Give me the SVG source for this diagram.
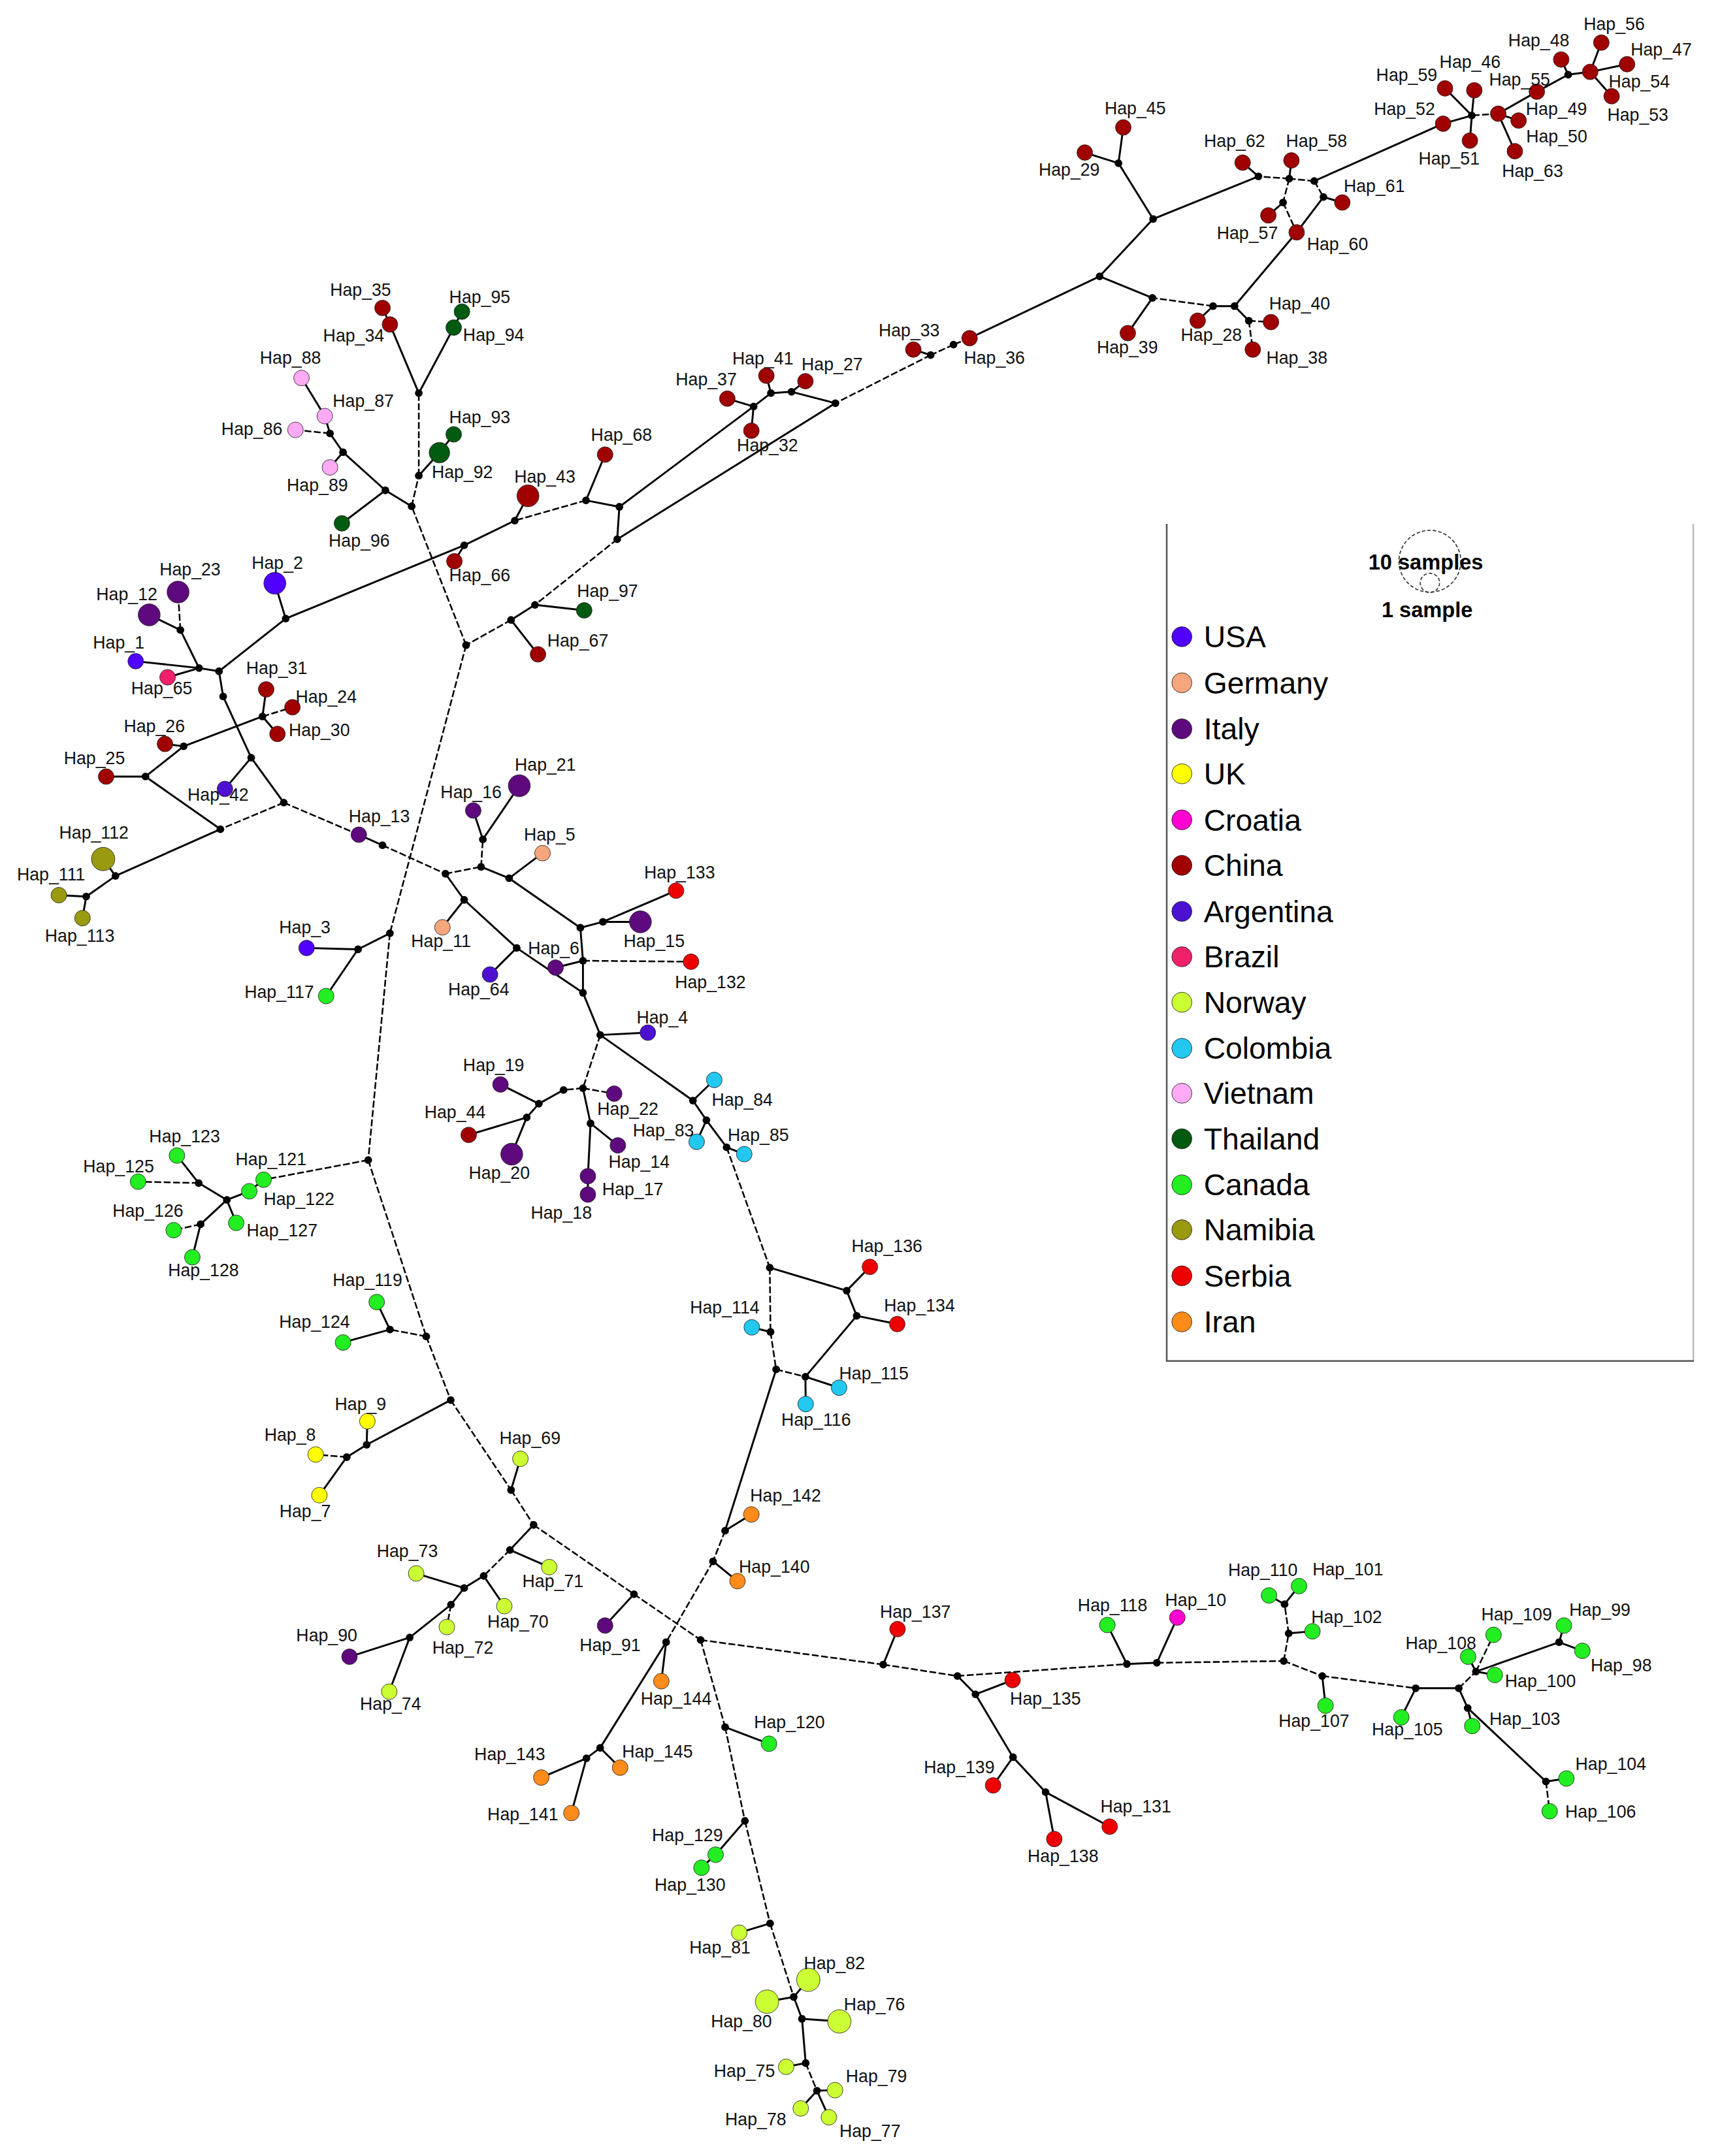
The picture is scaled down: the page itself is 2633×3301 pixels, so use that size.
<svg xmlns="http://www.w3.org/2000/svg" width="2633" height="3301" viewBox="0 0 2633 3301">
<style>
.s{stroke:#000;stroke-width:1.4;fill:none}
.d{stroke:#000;stroke-width:1.2;stroke-dasharray:5 1.8;fill:none}
.m{fill:#000}
.h{stroke:#222;stroke-width:0.4}
text{font-family:"Liberation Sans",Arial,sans-serif;font-size:12.7px;fill:#111}
.lg{font-size:22px;fill:#000}
.ls{font-size:15.5px;font-weight:bold;fill:#000}
.usa{fill:#5000ff}.ger{fill:#f5a67c}.ita{fill:#5e0a7e}.uk{fill:#ffff00}.cro{fill:#ff00d0}.cn{fill:#a00000}.arg{fill:#4b10d0}.bra{fill:#f0206a}.nor{fill:#ccff33}.col{fill:#22c8f0}.vie{fill:#ffaaf5}.tha{fill:#005a10}.can{fill:#22ee22}.nam{fill:#9a9a10}.ser{fill:#ee0000}.iran{fill:#ff8c1a}
</style>
<rect width="2633" height="3301" fill="#fff"/>
<g transform="scale(2.1047)">
<g id="connectors">
<line class="s" x1="1140.6" y1="54.3" x2="1135.5" y2="43.3"/>
<line class="s" x1="1140.6" y1="54.3" x2="1156.6" y2="52.3"/>
<line class="s" x1="1140.6" y1="54.3" x2="1117.8" y2="66.7"/>
<line class="s" x1="1156.6" y1="52.3" x2="1164.7" y2="31"/>
<line class="s" x1="1156.6" y1="52.3" x2="1183.4" y2="46.7"/>
<line class="s" x1="1156.6" y1="52.3" x2="1172.2" y2="70"/>
<line class="s" x1="1117.8" y1="66.7" x2="1089.7" y2="82.7"/>
<line class="d" x1="1089.7" y1="82.7" x2="1070.5" y2="84"/>
<line class="s" x1="1089.7" y1="82.7" x2="1104.5" y2="87.7"/>
<line class="s" x1="1089.7" y1="82.7" x2="1101.8" y2="110"/>
<line class="s" x1="1070.5" y1="84" x2="1051" y2="64.3"/>
<line class="s" x1="1070.5" y1="84" x2="1072.3" y2="65.7"/>
<line class="s" x1="1070.5" y1="84" x2="1049.6" y2="90"/>
<line class="s" x1="1070.5" y1="84" x2="1069.1" y2="102.3"/>
<line class="s" x1="1049.6" y1="90" x2="955.9" y2="131.7"/>
<line class="d" x1="955.9" y1="131.7" x2="937.7" y2="130"/>
<line class="d" x1="955.9" y1="131.7" x2="962.6" y2="143.3"/>
<line class="s" x1="937.7" y1="130" x2="939.3" y2="116.7"/>
<line class="d" x1="937.7" y1="130" x2="915.3" y2="128.3"/>
<line class="d" x1="937.7" y1="130" x2="933.2" y2="147.3"/>
<line class="s" x1="915.3" y1="128.3" x2="903.8" y2="118.3"/>
<line class="s" x1="915.3" y1="128.3" x2="838.7" y2="159.3"/>
<line class="s" x1="933.2" y1="147.3" x2="922.5" y2="156.7"/>
<line class="d" x1="933.2" y1="147.3" x2="943.1" y2="169"/>
<line class="s" x1="962.6" y1="143.3" x2="976.3" y2="147.3"/>
<line class="s" x1="962.6" y1="143.3" x2="943.1" y2="169"/>
<line class="s" x1="943.1" y1="169" x2="897.9" y2="222.7"/>
<line class="s" x1="897.9" y1="222.7" x2="882.3" y2="222.7"/>
<line class="s" x1="897.9" y1="222.7" x2="908.3" y2="233.3"/>
<line class="d" x1="908.3" y1="233.3" x2="924.4" y2="234.3"/>
<line class="d" x1="908.3" y1="233.3" x2="911.2" y2="254.3"/>
<line class="s" x1="882.3" y1="222.7" x2="871.1" y2="233.3"/>
<line class="d" x1="882.3" y1="222.7" x2="838.2" y2="216.7"/>
<line class="s" x1="838.2" y1="216.7" x2="820.3" y2="242.3"/>
<line class="s" x1="838.2" y1="216.7" x2="799.8" y2="201"/>
<line class="s" x1="799.8" y1="201" x2="838.7" y2="159.3"/>
<line class="s" x1="799.8" y1="201" x2="705.2" y2="246"/>
<line class="s" x1="838.7" y1="159.3" x2="813.5" y2="118.7"/>
<line class="s" x1="813.5" y1="118.7" x2="817" y2="92.7"/>
<line class="s" x1="813.5" y1="118.7" x2="789" y2="111"/>
<line class="d" x1="705.2" y1="246" x2="693.5" y2="250.7"/>
<line class="d" x1="693.5" y1="250.7" x2="676.9" y2="258.3"/>
<line class="s" x1="676.9" y1="258.3" x2="664.3" y2="254.3"/>
<line class="d" x1="676.9" y1="258.3" x2="607.6" y2="293.3"/>
<line class="s" x1="607.6" y1="293.3" x2="575.7" y2="285"/>
<line class="s" x1="575.7" y1="285" x2="585.8" y2="277.3"/>
<line class="s" x1="575.7" y1="285" x2="560.7" y2="286"/>
<line class="s" x1="560.7" y1="286" x2="557.4" y2="273.3"/>
<line class="s" x1="560.7" y1="286" x2="548.1" y2="295.7"/>
<line class="s" x1="548.1" y1="295.7" x2="529" y2="290"/>
<line class="s" x1="548.1" y1="295.7" x2="546.5" y2="313.3"/>
<line class="s" x1="548.1" y1="295.7" x2="450.5" y2="368.7"/>
<line class="s" x1="607.6" y1="293.3" x2="448.9" y2="392.3"/>
<line class="s" x1="450.5" y1="368.7" x2="448.9" y2="392.3"/>
<line class="s" x1="450.5" y1="368.7" x2="426.2" y2="364"/>
<line class="s" x1="426.2" y1="364" x2="440.1" y2="330.7"/>
<line class="d" x1="426.2" y1="364" x2="374.4" y2="378.7"/>
<line class="s" x1="374.4" y1="378.7" x2="384" y2="360.7"/>
<line class="s" x1="374.4" y1="378.7" x2="337.6" y2="396.7"/>
<line class="s" x1="337.6" y1="396.7" x2="330.5" y2="408.3"/>
<line class="s" x1="337.6" y1="396.7" x2="207.8" y2="450"/>
<line class="d" x1="448.9" y1="392.3" x2="389.1" y2="440"/>
<line class="s" x1="389.1" y1="440" x2="424.9" y2="444"/>
<line class="s" x1="389.1" y1="440" x2="371.7" y2="451"/>
<line class="s" x1="371.7" y1="451" x2="391.3" y2="476"/>
<line class="d" x1="371.7" y1="451" x2="339" y2="469.3"/>
<line class="d" x1="339" y1="469.3" x2="299.4" y2="368.3"/>
<line class="s" x1="299.4" y1="368.3" x2="280.3" y2="356.7"/>
<line class="d" x1="299.4" y1="368.3" x2="304.6" y2="346"/>
<line class="s" x1="304.6" y1="346" x2="319.6" y2="329.3"/>
<line class="d" x1="304.6" y1="346" x2="304.6" y2="286"/>
<line class="s" x1="319.6" y1="329.3" x2="330" y2="316"/>
<line class="s" x1="304.6" y1="286" x2="283.6" y2="236"/>
<line class="s" x1="304.6" y1="286" x2="330" y2="238.3"/>
<line class="s" x1="283.6" y1="236" x2="278.2" y2="224"/>
<line class="s" x1="330" y1="238.3" x2="336" y2="226.7"/>
<line class="s" x1="280.3" y1="356.7" x2="248.7" y2="380.7"/>
<line class="s" x1="280.3" y1="356.7" x2="249.5" y2="329"/>
<line class="s" x1="249.5" y1="329" x2="240" y2="340"/>
<line class="s" x1="249.5" y1="329" x2="240" y2="315.3"/>
<line class="d" x1="240" y1="315.3" x2="214.9" y2="312.7"/>
<line class="s" x1="240" y1="315.3" x2="236.2" y2="302.7"/>
<line class="s" x1="236.2" y1="302.7" x2="219.3" y2="275"/>
<line class="s" x1="207.8" y1="450" x2="199.9" y2="424.3"/>
<line class="s" x1="207.8" y1="450" x2="159.3" y2="488.3"/>
<line class="s" x1="159.3" y1="488.3" x2="144.8" y2="486"/>
<line class="s" x1="159.3" y1="488.3" x2="162.3" y2="506.7"/>
<line class="s" x1="144.8" y1="486" x2="98.7" y2="481"/>
<line class="s" x1="144.8" y1="486" x2="121.9" y2="492.7"/>
<line class="s" x1="144.8" y1="486" x2="131.2" y2="458.3"/>
<line class="d" x1="131.2" y1="458.3" x2="129.5" y2="430.7"/>
<line class="s" x1="131.2" y1="458.3" x2="108.5" y2="447.3"/>
<line class="s" x1="162.3" y1="506.7" x2="182.7" y2="551.2"/>
<line class="s" x1="182.7" y1="551.2" x2="163.6" y2="573.9"/>
<line class="s" x1="182.7" y1="551.2" x2="206.4" y2="583.9"/>
<line class="d" x1="206.4" y1="583.9" x2="160.3" y2="603.2"/>
<line class="d" x1="206.4" y1="583.9" x2="261" y2="607.2"/>
<line class="s" x1="261" y1="607.2" x2="278.2" y2="614.9"/>
<line class="d" x1="278.2" y1="614.9" x2="324" y2="635.6"/>
<line class="s" x1="190.9" y1="521.2" x2="193.6" y2="501.5"/>
<line class="d" x1="190.9" y1="521.2" x2="212.7" y2="514.5"/>
<line class="s" x1="190.9" y1="521.2" x2="201.8" y2="533.9"/>
<line class="s" x1="190.9" y1="521.2" x2="133.6" y2="542.9"/>
<line class="s" x1="133.6" y1="542.9" x2="120" y2="541.2"/>
<line class="s" x1="133.6" y1="542.9" x2="105.8" y2="564.9"/>
<line class="s" x1="105.8" y1="564.9" x2="77.2" y2="564.9"/>
<line class="s" x1="105.8" y1="564.9" x2="160.3" y2="603.2"/>
<line class="s" x1="160.3" y1="603.2" x2="84" y2="637.2"/>
<line class="s" x1="84" y1="637.2" x2="75" y2="624.9"/>
<line class="s" x1="84" y1="637.2" x2="62.7" y2="652.2"/>
<line class="s" x1="62.7" y1="652.2" x2="42.8" y2="651.2"/>
<line class="s" x1="62.7" y1="652.2" x2="60" y2="667.9"/>
<line class="d" x1="339" y1="469.3" x2="283.6" y2="678.9"/>
<line class="s" x1="324" y1="635.6" x2="337.6" y2="654.6"/>
<line class="d" x1="324" y1="635.6" x2="349.9" y2="630.6"/>
<line class="d" x1="349.9" y1="630.6" x2="351.2" y2="610.6"/>
<line class="s" x1="349.9" y1="630.6" x2="370.3" y2="638.9"/>
<line class="s" x1="351.2" y1="610.6" x2="344.2" y2="589.6"/>
<line class="s" x1="351.2" y1="610.6" x2="377.7" y2="571.6"/>
<line class="s" x1="370.3" y1="638.9" x2="394.6" y2="620.6"/>
<line class="s" x1="370.3" y1="638.9" x2="422.1" y2="674.9"/>
<line class="s" x1="422.1" y1="674.9" x2="438.5" y2="670.6"/>
<line class="s" x1="422.1" y1="674.9" x2="424" y2="698.9"/>
<line class="s" x1="438.5" y1="670.6" x2="465.8" y2="670.6"/>
<line class="s" x1="438.5" y1="670.6" x2="491.7" y2="647.9"/>
<line class="d" x1="424" y1="698.9" x2="502.6" y2="699.6"/>
<line class="s" x1="424" y1="698.9" x2="404.1" y2="703.9"/>
<line class="s" x1="424" y1="698.9" x2="424" y2="722.2"/>
<line class="s" x1="337.6" y1="654.6" x2="321.8" y2="674.6"/>
<line class="s" x1="337.6" y1="654.6" x2="375.8" y2="689.6"/>
<line class="s" x1="375.8" y1="689.6" x2="356.4" y2="708.9"/>
<line class="s" x1="375.8" y1="689.6" x2="424" y2="722.2"/>
<line class="s" x1="424" y1="722.2" x2="436.6" y2="752.9"/>
<line class="s" x1="436.6" y1="752.9" x2="471.2" y2="751.2"/>
<line class="s" x1="436.6" y1="752.9" x2="504" y2="800.6"/>
<line class="d" x1="436.6" y1="752.9" x2="424" y2="791.6"/>
<line class="d" x1="424" y1="791.6" x2="409.9" y2="792.9"/>
<line class="d" x1="424" y1="791.6" x2="446.7" y2="795.6"/>
<line class="s" x1="424" y1="791.6" x2="429.5" y2="817.2"/>
<line class="s" x1="409.9" y1="792.9" x2="391.9" y2="802.9"/>
<line class="s" x1="391.9" y1="802.9" x2="364" y2="788.9"/>
<line class="s" x1="391.9" y1="802.9" x2="383.1" y2="812.9"/>
<line class="s" x1="383.1" y1="812.9" x2="340.9" y2="825.6"/>
<line class="s" x1="383.1" y1="812.9" x2="372.2" y2="839.6"/>
<line class="s" x1="429.5" y1="817.2" x2="449.4" y2="833.2"/>
<line class="s" x1="429.5" y1="817.2" x2="427.6" y2="855.6"/>
<line class="s" x1="427.6" y1="855.6" x2="427.6" y2="869"/>
<line class="s" x1="504" y1="800.6" x2="519.5" y2="785.6"/>
<line class="s" x1="504" y1="800.6" x2="513.8" y2="814.9"/>
<line class="s" x1="513.8" y1="814.9" x2="506.7" y2="830.6"/>
<line class="s" x1="513.8" y1="814.9" x2="528.5" y2="834.6"/>
<line class="s" x1="528.5" y1="834.6" x2="541.3" y2="839.6"/>
<line class="d" x1="528.5" y1="834.6" x2="559.9" y2="922.2"/>
<line class="s" x1="559.9" y1="922.2" x2="615.8" y2="938.9"/>
<line class="d" x1="559.9" y1="922.2" x2="560.4" y2="968.9"/>
<line class="s" x1="615.8" y1="938.9" x2="632.7" y2="921.6"/>
<line class="s" x1="615.8" y1="938.9" x2="623.1" y2="957.2"/>
<line class="s" x1="623.1" y1="957.2" x2="652.6" y2="963.2"/>
<line class="s" x1="623.1" y1="957.2" x2="585.8" y2="1001.5"/>
<line class="s" x1="560.4" y1="968.9" x2="546.8" y2="965.6"/>
<line class="d" x1="560.4" y1="968.9" x2="564.5" y2="996.2"/>
<line class="d" x1="564.5" y1="996.2" x2="585.8" y2="1001.5"/>
<line class="s" x1="564.5" y1="996.2" x2="527.4" y2="1113.5"/>
<line class="s" x1="585.8" y1="1001.5" x2="610.3" y2="1009.5"/>
<line class="s" x1="585.8" y1="1001.5" x2="586" y2="1021.4"/>
<line class="s" x1="527.4" y1="1113.5" x2="546.5" y2="1101.7"/>
<line class="d" x1="527.4" y1="1113.5" x2="518.6" y2="1135.8"/>
<line class="s" x1="518.6" y1="1135.8" x2="536.4" y2="1150.2"/>
<line class="d" x1="518.6" y1="1135.8" x2="484.5" y2="1194.6"/>
<line class="s" x1="484.5" y1="1194.6" x2="481" y2="1223"/>
<line class="s" x1="484.5" y1="1194.6" x2="436.5" y2="1271.5"/>
<line class="s" x1="436.5" y1="1271.5" x2="451" y2="1285.9"/>
<line class="s" x1="436.5" y1="1271.5" x2="426.5" y2="1279.1"/>
<line class="s" x1="426.5" y1="1279.1" x2="393.7" y2="1293.1"/>
<line class="s" x1="426.5" y1="1279.1" x2="415.6" y2="1318.9"/>
<line class="s" x1="283.6" y1="678.9" x2="260.4" y2="690.6"/>
<line class="d" x1="283.6" y1="678.9" x2="267.8" y2="843.9"/>
<line class="s" x1="260.4" y1="690.6" x2="223" y2="689.6"/>
<line class="s" x1="260.4" y1="690.6" x2="237.2" y2="724.6"/>
<line class="d" x1="267.8" y1="843.9" x2="191.7" y2="858.2"/>
<line class="s" x1="191.7" y1="858.2" x2="181.3" y2="866.6"/>
<line class="s" x1="181.3" y1="866.6" x2="165" y2="872.9"/>
<line class="s" x1="165" y1="872.9" x2="144.5" y2="860.6"/>
<line class="s" x1="165" y1="872.9" x2="145.9" y2="890.6"/>
<line class="s" x1="165" y1="872.9" x2="171.8" y2="889.6"/>
<line class="s" x1="144.5" y1="860.6" x2="128.7" y2="840.6"/>
<line class="d" x1="144.5" y1="860.6" x2="100.4" y2="859.6"/>
<line class="d" x1="145.9" y1="890.6" x2="126.3" y2="894.9"/>
<line class="s" x1="145.9" y1="890.6" x2="139.9" y2="914.6"/>
<line class="d" x1="267.8" y1="843.9" x2="310" y2="972.2"/>
<line class="d" x1="310" y1="972.2" x2="283.6" y2="967.2"/>
<line class="d" x1="310" y1="972.2" x2="327.8" y2="1018.5"/>
<line class="s" x1="283.6" y1="967.2" x2="274" y2="947.2"/>
<line class="s" x1="283.6" y1="967.2" x2="249.5" y2="976.6"/>
<line class="s" x1="327.8" y1="1018.5" x2="266.7" y2="1051"/>
<line class="d" x1="327.8" y1="1018.5" x2="371.7" y2="1083.9"/>
<line class="s" x1="266.7" y1="1051" x2="267.2" y2="1033.9"/>
<line class="s" x1="266.7" y1="1051" x2="252.2" y2="1060"/>
<line class="d" x1="252.2" y1="1060" x2="229.6" y2="1058.1"/>
<line class="s" x1="252.2" y1="1060" x2="232.3" y2="1087.7"/>
<line class="s" x1="371.7" y1="1083.9" x2="378.5" y2="1061.2"/>
<line class="d" x1="371.7" y1="1083.9" x2="388.1" y2="1109.3"/>
<line class="s" x1="388.1" y1="1109.3" x2="370.9" y2="1127.5"/>
<line class="d" x1="388.1" y1="1109.3" x2="461.1" y2="1159.7"/>
<line class="s" x1="370.9" y1="1127.5" x2="399.5" y2="1140"/>
<line class="d" x1="370.9" y1="1127.5" x2="351.8" y2="1146.4"/>
<line class="s" x1="351.8" y1="1146.4" x2="366.8" y2="1168.4"/>
<line class="s" x1="351.8" y1="1146.4" x2="337.6" y2="1155.2"/>
<line class="s" x1="337.6" y1="1155.2" x2="302.7" y2="1144.6"/>
<line class="s" x1="337.6" y1="1155.2" x2="328" y2="1167.3"/>
<line class="d" x1="328" y1="1167.3" x2="325" y2="1183.6"/>
<line class="s" x1="328" y1="1167.3" x2="298" y2="1191.2"/>
<line class="s" x1="298" y1="1191.2" x2="254.2" y2="1205.2"/>
<line class="s" x1="298" y1="1191.2" x2="283.1" y2="1230.6"/>
<line class="s" x1="461.1" y1="1159.7" x2="440.1" y2="1182.5"/>
<line class="d" x1="461.1" y1="1159.7" x2="509.6" y2="1193"/>
<line class="d" x1="509.6" y1="1193" x2="642.4" y2="1210.9"/>
<line class="d" x1="509.6" y1="1193" x2="527.4" y2="1256.4"/>
<line class="s" x1="642.4" y1="1210.9" x2="652.8" y2="1185.1"/>
<line class="d" x1="642.4" y1="1210.9" x2="696.4" y2="1219.2"/>
<line class="s" x1="696.4" y1="1219.2" x2="709.5" y2="1232.5"/>
<line class="d" x1="696.4" y1="1219.2" x2="819.6" y2="1210.5"/>
<line class="s" x1="709.5" y1="1232.5" x2="736.5" y2="1222.2"/>
<line class="s" x1="709.5" y1="1232.5" x2="736.8" y2="1278.3"/>
<line class="s" x1="736.8" y1="1278.3" x2="722.3" y2="1298.8"/>
<line class="s" x1="736.8" y1="1278.3" x2="760.5" y2="1303.7"/>
<line class="s" x1="760.5" y1="1303.7" x2="766.8" y2="1337.8"/>
<line class="s" x1="760.5" y1="1303.7" x2="807.1" y2="1328.8"/>
<line class="s" x1="819.6" y1="1210.5" x2="805.4" y2="1182.1"/>
<line class="s" x1="819.6" y1="1210.5" x2="841.4" y2="1209.6"/>
<line class="s" x1="841.4" y1="1209.6" x2="856.3" y2="1176.7"/>
<line class="d" x1="841.4" y1="1209.6" x2="933.7" y2="1208.3"/>
<line class="d" x1="933.7" y1="1208.3" x2="937.3" y2="1188.2"/>
<line class="d" x1="933.7" y1="1208.3" x2="961.7" y2="1219.2"/>
<line class="s" x1="937.3" y1="1188.2" x2="954.6" y2="1186.7"/>
<line class="d" x1="937.3" y1="1188.2" x2="934.3" y2="1167"/>
<line class="s" x1="934.3" y1="1167" x2="923" y2="1160.6"/>
<line class="s" x1="934.3" y1="1167" x2="944.8" y2="1153.8"/>
<line class="s" x1="961.7" y1="1219.2" x2="964.1" y2="1240.8"/>
<line class="d" x1="961.7" y1="1219.2" x2="1029.7" y2="1228.1"/>
<line class="s" x1="1029.7" y1="1228.1" x2="1019.2" y2="1249.3"/>
<line class="s" x1="1029.7" y1="1228.1" x2="1061" y2="1228.1"/>
<line class="d" x1="1061" y1="1228.1" x2="1073.5" y2="1216"/>
<line class="s" x1="1061" y1="1228.1" x2="1067.5" y2="1242.5"/>
<line class="s" x1="1073.5" y1="1216" x2="1067.8" y2="1205.2"/>
<line class="d" x1="1073.5" y1="1216" x2="1086.3" y2="1189.3"/>
<line class="s" x1="1073.5" y1="1216" x2="1087.2" y2="1218.5"/>
<line class="s" x1="1073.5" y1="1216" x2="1134" y2="1194.6"/>
<line class="s" x1="1134" y1="1194.6" x2="1137.5" y2="1182.5"/>
<line class="s" x1="1134" y1="1194.6" x2="1150.9" y2="1200.9"/>
<line class="s" x1="1067.5" y1="1242.5" x2="1070.8" y2="1255.6"/>
<line class="s" x1="1067.5" y1="1242.5" x2="1124.4" y2="1296"/>
<line class="s" x1="1124.4" y1="1296" x2="1139.3" y2="1293.8"/>
<line class="d" x1="1124.4" y1="1296" x2="1127.1" y2="1317.6"/>
<line class="s" x1="527.4" y1="1256.4" x2="559.3" y2="1268.5"/>
<line class="d" x1="527.4" y1="1256.4" x2="541.8" y2="1324.6"/>
<line class="s" x1="541.8" y1="1324.6" x2="520.5" y2="1349.2"/>
<line class="s" x1="520.5" y1="1349.2" x2="510.2" y2="1358.7"/>
<line class="d" x1="541.8" y1="1324.6" x2="560.1" y2="1399.2"/>
<line class="s" x1="560.1" y1="1399.2" x2="537.7" y2="1406"/>
<line class="d" x1="560.1" y1="1399.2" x2="577.3" y2="1452.7"/>
<line class="s" x1="577.3" y1="1452.7" x2="587.9" y2="1440.2"/>
<line class="s" x1="577.3" y1="1452.7" x2="557.9" y2="1456.1"/>
<line class="s" x1="577.3" y1="1452.7" x2="583.3" y2="1468.6"/>
<line class="s" x1="583.3" y1="1468.6" x2="610.5" y2="1470.5"/>
<line class="s" x1="583.3" y1="1468.6" x2="586" y2="1500.8"/>
<line class="s" x1="586" y1="1500.8" x2="571.8" y2="1503.5"/>
<line class="d" x1="586" y1="1500.8" x2="594.2" y2="1520.9"/>
<line class="s" x1="594.2" y1="1520.9" x2="607.3" y2="1520.5"/>
<line class="s" x1="594.2" y1="1520.9" x2="582.4" y2="1533.8"/>
<line class="s" x1="594.2" y1="1520.9" x2="602.9" y2="1540.2"/>
</g>
<g id="median-vectors" class="m">
<circle cx="1140.6" cy="54.3" r="2.8"/><circle cx="1070.5" cy="84" r="2.8"/><circle cx="915.3" cy="128.3" r="2.8"/><circle cx="937.7" cy="130" r="2.8"/><circle cx="955.9" cy="131.7" r="2.8"/><circle cx="933.2" cy="147.3" r="2.8"/><circle cx="962.6" cy="143.3" r="2.8"/><circle cx="838.7" cy="159.3" r="2.8"/><circle cx="813.5" cy="118.7" r="2.8"/><circle cx="799.8" cy="201" r="2.8"/><circle cx="838.2" cy="216.7" r="2.8"/><circle cx="882.3" cy="222.7" r="2.8"/><circle cx="897.9" cy="222.7" r="2.8"/><circle cx="908.3" cy="233.3" r="2.8"/><circle cx="693.5" cy="250.7" r="2.8"/><circle cx="676.9" cy="258.3" r="2.8"/><circle cx="607.6" cy="293.3" r="2.8"/><circle cx="575.7" cy="285" r="2.8"/><circle cx="560.7" cy="286" r="2.8"/><circle cx="548.1" cy="295.7" r="2.8"/><circle cx="450.5" cy="368.7" r="2.8"/><circle cx="448.9" cy="392.3" r="2.8"/><circle cx="426.2" cy="364" r="2.8"/><circle cx="374.4" cy="378.7" r="2.8"/><circle cx="337.6" cy="396.7" r="2.8"/><circle cx="389.1" cy="440" r="2.8"/><circle cx="371.7" cy="451" r="2.8"/><circle cx="339" cy="469.3" r="2.8"/><circle cx="299.4" cy="368.3" r="2.8"/><circle cx="304.6" cy="346" r="2.8"/><circle cx="304.6" cy="286" r="2.8"/><circle cx="280.3" cy="356.7" r="2.8"/><circle cx="249.5" cy="329" r="2.8"/><circle cx="240" cy="315.3" r="2.8"/><circle cx="207.8" cy="450" r="2.8"/><circle cx="159.3" cy="488.3" r="2.8"/><circle cx="144.8" cy="486" r="2.8"/><circle cx="131.2" cy="458.3" r="2.8"/><circle cx="162.3" cy="506.7" r="2.8"/><circle cx="190.9" cy="521.2" r="2.8"/><circle cx="133.6" cy="542.9" r="2.8"/><circle cx="182.7" cy="551.2" r="2.8"/><circle cx="206.4" cy="583.9" r="2.8"/><circle cx="105.8" cy="564.9" r="2.8"/><circle cx="160.3" cy="603.2" r="2.8"/><circle cx="84" cy="637.2" r="2.8"/><circle cx="62.7" cy="652.2" r="2.8"/><circle cx="278.2" cy="614.9" r="2.8"/><circle cx="324" cy="635.6" r="2.8"/><circle cx="337.6" cy="654.6" r="2.8"/><circle cx="349.9" cy="630.6" r="2.8"/><circle cx="351.2" cy="610.6" r="2.8"/><circle cx="370.3" cy="638.9" r="2.8"/><circle cx="422.1" cy="674.9" r="2.8"/><circle cx="438.5" cy="670.6" r="2.8"/><circle cx="424" cy="698.9" r="2.8"/><circle cx="375.8" cy="689.6" r="2.8"/><circle cx="424" cy="722.2" r="2.8"/><circle cx="436.6" cy="752.9" r="2.8"/><circle cx="424" cy="791.6" r="2.8"/><circle cx="409.9" cy="792.9" r="2.8"/><circle cx="391.9" cy="802.9" r="2.8"/><circle cx="383.1" cy="812.9" r="2.8"/><circle cx="429.5" cy="817.2" r="2.8"/><circle cx="504" cy="800.6" r="2.8"/><circle cx="513.8" cy="814.9" r="2.8"/><circle cx="528.5" cy="834.6" r="2.8"/><circle cx="559.9" cy="922.2" r="2.8"/><circle cx="615.8" cy="938.9" r="2.8"/><circle cx="623.1" cy="957.2" r="2.8"/><circle cx="560.4" cy="968.9" r="2.8"/><circle cx="564.5" cy="996.2" r="2.8"/><circle cx="585.8" cy="1001.5" r="2.8"/><circle cx="527.4" cy="1113.5" r="2.8"/><circle cx="518.6" cy="1135.8" r="2.8"/><circle cx="484.5" cy="1194.6" r="2.8"/><circle cx="436.5" cy="1271.5" r="2.8"/><circle cx="426.5" cy="1279.1" r="2.8"/><circle cx="283.6" cy="678.9" r="2.8"/><circle cx="260.4" cy="690.6" r="2.8"/><circle cx="267.8" cy="843.9" r="2.8"/><circle cx="165" cy="872.9" r="2.8"/><circle cx="144.5" cy="860.6" r="2.8"/><circle cx="145.9" cy="890.6" r="2.8"/><circle cx="310" cy="972.2" r="2.8"/><circle cx="283.6" cy="967.2" r="2.8"/><circle cx="327.8" cy="1018.5" r="2.8"/><circle cx="266.7" cy="1051" r="2.8"/><circle cx="252.2" cy="1060" r="2.8"/><circle cx="371.7" cy="1083.9" r="2.8"/><circle cx="388.1" cy="1109.3" r="2.8"/><circle cx="370.9" cy="1127.5" r="2.8"/><circle cx="351.8" cy="1146.4" r="2.8"/><circle cx="337.6" cy="1155.2" r="2.8"/><circle cx="328" cy="1167.3" r="2.8"/><circle cx="298" cy="1191.2" r="2.8"/><circle cx="461.1" cy="1159.7" r="2.8"/><circle cx="509.6" cy="1193" r="2.8"/><circle cx="642.4" cy="1210.9" r="2.8"/><circle cx="696.4" cy="1219.2" r="2.8"/><circle cx="709.5" cy="1232.5" r="2.8"/><circle cx="736.8" cy="1278.3" r="2.8"/><circle cx="760.5" cy="1303.7" r="2.8"/><circle cx="819.6" cy="1210.5" r="2.8"/><circle cx="841.4" cy="1209.6" r="2.8"/><circle cx="933.7" cy="1208.3" r="2.8"/><circle cx="937.3" cy="1188.2" r="2.8"/><circle cx="934.3" cy="1167" r="2.8"/><circle cx="961.7" cy="1219.2" r="2.8"/><circle cx="1029.7" cy="1228.1" r="2.8"/><circle cx="1061" cy="1228.1" r="2.8"/><circle cx="1073.5" cy="1216" r="2.8"/><circle cx="1134" cy="1194.6" r="2.8"/><circle cx="1067.5" cy="1242.5" r="2.8"/><circle cx="1124.4" cy="1296" r="2.8"/><circle cx="527.4" cy="1256.4" r="2.8"/><circle cx="541.8" cy="1324.6" r="2.8"/><circle cx="560.1" cy="1399.2" r="2.8"/><circle cx="577.3" cy="1452.7" r="2.8"/><circle cx="583.3" cy="1468.6" r="2.8"/><circle cx="586" cy="1500.8" r="2.8"/><circle cx="594.2" cy="1520.9" r="2.8"/>
</g>
<g id="haplotypes">
<g id="Hap_56"><circle class="h cn" cx="1164.7" cy="31" r="5.7"/><text x="1151.8" y="21.8">Hap_56</text></g>
<g id="Hap_48"><circle class="h cn" cx="1135.5" cy="43.3" r="5.7"/><text x="1097" y="33.8">Hap_48</text></g>
<g id="Hap_47"><circle class="h cn" cx="1183.4" cy="46.7" r="5.7"/><text x="1186" y="40.5">Hap_47</text></g>
<g id="Hap_54"><circle class="h cn" cx="1156.6" cy="52.3" r="5.7"/><text x="1170" y="63.8">Hap_54</text></g>
<g id="Hap_53"><circle class="h cn" cx="1172.2" cy="70" r="5.7"/><text x="1169" y="87.8">Hap_53</text></g>
<g id="Hap_59"><circle class="h cn" cx="1051" cy="64.3" r="5.7"/><text x="1000.9" y="58.8">Hap_59</text></g>
<g id="Hap_46"><circle class="h cn" cx="1072.3" cy="65.7" r="5.7"/><text x="1047" y="49.5">Hap_46</text></g>
<g id="Hap_55"><circle class="h cn" cx="1117.8" cy="66.7" r="5.7"/><text x="1083" y="62.2">Hap_55</text></g>
<g id="Hap_52"><circle class="h cn" cx="1049.6" cy="90" r="5.7"/><text x="999.3" y="83.8">Hap_52</text></g>
<g id="Hap_49"><circle class="h cn" cx="1089.7" cy="82.7" r="5.7"/><text x="1109.8" y="83.5">Hap_49</text></g>
<g id="Hap_50"><circle class="h cn" cx="1104.5" cy="87.7" r="5.7"/><text x="1110" y="103.5">Hap_50</text></g>
<g id="Hap_63"><circle class="h cn" cx="1101.8" cy="110" r="5.7"/><text x="1092.4" y="128.8">Hap_63</text></g>
<g id="Hap_51"><circle class="h cn" cx="1069.1" cy="102.3" r="5.7"/><text x="1031.7" y="119.5">Hap_51</text></g>
<g id="Hap_62"><circle class="h cn" cx="903.8" cy="118.3" r="5.7"/><text x="875.7" y="106.8">Hap_62</text></g>
<g id="Hap_58"><circle class="h cn" cx="939.3" cy="116.7" r="5.7"/><text x="935.3" y="106.8">Hap_58</text></g>
<g id="Hap_61"><circle class="h cn" cx="976.3" cy="147.3" r="5.7"/><text x="977.3" y="139.5">Hap_61</text></g>
<g id="Hap_57"><circle class="h cn" cx="922.5" cy="156.7" r="5.7"/><text x="885" y="173.8">Hap_57</text></g>
<g id="Hap_60"><circle class="h cn" cx="943.1" cy="169" r="5.7"/><text x="950.6" y="182.2">Hap_60</text></g>
<g id="Hap_40"><circle class="h cn" cx="924.4" cy="234.3" r="5.7"/><text x="923" y="225.2">Hap_40</text></g>
<g id="Hap_38"><circle class="h cn" cx="911.2" cy="254.3" r="5.7"/><text x="921" y="264.5">Hap_38</text></g>
<g id="Hap_28"><circle class="h cn" cx="871.1" cy="233.3" r="5.7"/><text x="858.8" y="247.8">Hap_28</text></g>
<g id="Hap_39"><circle class="h cn" cx="820.3" cy="242.3" r="5.7"/><text x="797.7" y="257.2">Hap_39</text></g>
<g id="Hap_45"><circle class="h cn" cx="817" cy="92.7" r="5.7"/><text x="803.4" y="83.2">Hap_45</text></g>
<g id="Hap_29"><circle class="h cn" cx="789" cy="111" r="5.7"/><text x="755.4" y="127.8">Hap_29</text></g>
<g id="Hap_36"><circle class="h cn" cx="705.2" cy="246" r="5.7"/><text x="701" y="264.5">Hap_36</text></g>
<g id="Hap_33"><circle class="h cn" cx="664.3" cy="254.3" r="5.7"/><text x="639" y="244.5">Hap_33</text></g>
<g id="Hap_27"><circle class="h cn" cx="585.8" cy="277.3" r="5.7"/><text x="583" y="269.5">Hap_27</text></g>
<g id="Hap_41"><circle class="h cn" cx="557.4" cy="273.3" r="5.7"/><text x="532.6" y="265.2">Hap_41</text></g>
<g id="Hap_37"><circle class="h cn" cx="529" cy="290" r="5.7"/><text x="491.4" y="280.5">Hap_37</text></g>
<g id="Hap_32"><circle class="h cn" cx="546.5" cy="313.3" r="5.7"/><text x="536" y="328.5">Hap_32</text></g>
<g id="Hap_68"><circle class="h cn" cx="440.1" cy="330.7" r="5.7"/><text x="429.8" y="320.5">Hap_68</text></g>
<g id="Hap_43"><circle class="h cn" cx="384" cy="360.7" r="8"/><text x="374" y="351.2">Hap_43</text></g>
<g id="Hap_66"><circle class="h cn" cx="330.5" cy="408.3" r="5.7"/><text x="326.7" y="422.8">Hap_66</text></g>
<g id="Hap_67"><circle class="h cn" cx="391.3" cy="476" r="5.7"/><text x="398" y="470.5">Hap_67</text></g>
<g id="Hap_35"><circle class="h cn" cx="278.2" cy="224" r="5.7"/><text x="240" y="215.2">Hap_35</text></g>
<g id="Hap_34"><circle class="h cn" cx="283.6" cy="236" r="5.7"/><text x="235" y="248.5">Hap_34</text></g>
<g id="Hap_31"><circle class="h cn" cx="193.6" cy="501.5" r="5.7"/><text x="179" y="490.2">Hap_31</text></g>
<g id="Hap_24"><circle class="h cn" cx="212.7" cy="514.5" r="5.7"/><text x="215" y="511">Hap_24</text></g>
<g id="Hap_30"><circle class="h cn" cx="201.8" cy="533.9" r="5.7"/><text x="210" y="535.7">Hap_30</text></g>
<g id="Hap_26"><circle class="h cn" cx="120" cy="541.2" r="5.7"/><text x="90" y="532.7">Hap_26</text></g>
<g id="Hap_25"><circle class="h cn" cx="77.2" cy="564.9" r="5.7"/><text x="46.4" y="556.1">Hap_25</text></g>
<g id="Hap_44"><circle class="h cn" cx="340.9" cy="825.6" r="5.7"/><text x="308.7" y="813.4">Hap_44</text></g>
<g id="Hap_95"><circle class="h tha" cx="336" cy="226.7" r="5.7"/><text x="326.7" y="220.5">Hap_95</text></g>
<g id="Hap_94"><circle class="h tha" cx="330" cy="238.3" r="5.7"/><text x="336.8" y="247.8">Hap_94</text></g>
<g id="Hap_93"><circle class="h tha" cx="330" cy="316" r="5.7"/><text x="326.7" y="307.8">Hap_93</text></g>
<g id="Hap_92"><circle class="h tha" cx="319.6" cy="329.3" r="7.5"/><text x="314" y="347.8">Hap_92</text></g>
<g id="Hap_96"><circle class="h tha" cx="248.7" cy="380.7" r="5.7"/><text x="239" y="397.8">Hap_96</text></g>
<g id="Hap_97"><circle class="h tha" cx="424.9" cy="444" r="5.7"/><text x="419.6" y="434.5">Hap_97</text></g>
<g id="Hap_88"><circle class="h vie" cx="219.3" cy="275" r="5.7"/><text x="189" y="264.5">Hap_88</text></g>
<g id="Hap_87"><circle class="h vie" cx="236.2" cy="302.7" r="5.7"/><text x="242" y="296.2">Hap_87</text></g>
<g id="Hap_86"><circle class="h vie" cx="214.9" cy="312.7" r="5.7"/><text x="161" y="316.2">Hap_86</text></g>
<g id="Hap_89"><circle class="h vie" cx="240" cy="340" r="5.7"/><text x="208.6" y="357.2">Hap_89</text></g>
<g id="Hap_2"><circle class="h usa" cx="199.9" cy="424.3" r="8"/><text x="183" y="413.8">Hap_2</text></g>
<g id="Hap_1"><circle class="h usa" cx="98.7" cy="481" r="5.7"/><text x="67.6" y="471.8">Hap_1</text></g>
<g id="Hap_3"><circle class="h usa" cx="223" cy="689.6" r="5.7"/><text x="203" y="679.1">Hap_3</text></g>
<g id="Hap_42"><circle class="h arg" cx="163.6" cy="573.9" r="5.7"/><text x="136.4" y="582.7">Hap_42</text></g>
<g id="Hap_64"><circle class="h arg" cx="356.4" cy="708.9" r="5.7"/><text x="325.9" y="724.1">Hap_64</text></g>
<g id="Hap_4"><circle class="h arg" cx="471.2" cy="751.2" r="5.7"/><text x="463" y="744.4">Hap_4</text></g>
<g id="Hap_23"><circle class="h ita" cx="129.5" cy="430.7" r="8"/><text x="116" y="418.8">Hap_23</text></g>
<g id="Hap_12"><circle class="h ita" cx="108.5" cy="447.3" r="8"/><text x="70" y="436.8">Hap_12</text></g>
<g id="Hap_13"><circle class="h ita" cx="261" cy="607.2" r="5.7"/><text x="253.6" y="598.4">Hap_13</text></g>
<g id="Hap_16"><circle class="h ita" cx="344.2" cy="589.6" r="5.7"/><text x="320.4" y="580.7">Hap_16</text></g>
<g id="Hap_21"><circle class="h ita" cx="377.7" cy="571.6" r="8"/><text x="374.4" y="560.7">Hap_21</text></g>
<g id="Hap_15"><circle class="h ita" cx="465.8" cy="670.6" r="8"/><text x="453.5" y="689.1">Hap_15</text></g>
<g id="Hap_6"><circle class="h ita" cx="404.1" cy="703.9" r="5.7"/><text x="384" y="694.1">Hap_6</text></g>
<g id="Hap_19"><circle class="h ita" cx="364" cy="788.9" r="5.7"/><text x="336.8" y="779.4">Hap_19</text></g>
<g id="Hap_20"><circle class="h ita" cx="372.2" cy="839.6" r="8"/><text x="340.9" y="857.4">Hap_20</text></g>
<g id="Hap_22"><circle class="h ita" cx="446.7" cy="795.6" r="5.7"/><text x="434.4" y="811.1">Hap_22</text></g>
<g id="Hap_14"><circle class="h ita" cx="449.4" cy="833.2" r="5.7"/><text x="442.6" y="849.4">Hap_14</text></g>
<g id="Hap_17"><circle class="h ita" cx="427.6" cy="855.6" r="5.7"/><text x="438" y="869.4">Hap_17</text></g>
<g id="Hap_18"><circle class="h ita" cx="427.6" cy="869" r="5.7"/><text x="386" y="886.5">Hap_18</text></g>
<g id="Hap_90"><circle class="h ita" cx="254.2" cy="1205.2" r="5.7"/><text x="215.4" y="1193.8">Hap_90</text></g>
<g id="Hap_91"><circle class="h ita" cx="440.1" cy="1182.5" r="5.7"/><text x="421.5" y="1201">Hap_91</text></g>
<g id="Hap_65"><circle class="h bra" cx="121.9" cy="492.7" r="5.7"/><text x="95.4" y="505.2">Hap_65</text></g>
<g id="Hap_5"><circle class="h ger" cx="394.6" cy="620.6" r="5.7"/><text x="381" y="611.7">Hap_5</text></g>
<g id="Hap_11"><circle class="h ger" cx="321.8" cy="674.6" r="5.7"/><text x="299" y="689.1">Hap_11</text></g>
<g id="Hap_112"><circle class="h nam" cx="75" cy="624.9" r="8.5"/><text x="43" y="610.1">Hap_112</text></g>
<g id="Hap_111"><circle class="h nam" cx="42.8" cy="651.2" r="5.7"/><text x="12.3" y="640.7">Hap_111</text></g>
<g id="Hap_113"><circle class="h nam" cx="60" cy="667.9" r="5.7"/><text x="32.7" y="685.1">Hap_113</text></g>
<g id="Hap_117"><circle class="h can" cx="237.2" cy="724.6" r="5.7"/><text x="177.8" y="726.1">Hap_117</text></g>
<g id="Hap_123"><circle class="h can" cx="128.7" cy="840.6" r="5.7"/><text x="108.5" y="831.1">Hap_123</text></g>
<g id="Hap_125"><circle class="h can" cx="100.4" cy="859.6" r="5.7"/><text x="60.5" y="852.7">Hap_125</text></g>
<g id="Hap_121"><circle class="h can" cx="191.7" cy="858.2" r="5.7"/><text x="171.3" y="847.4">Hap_121</text></g>
<g id="Hap_122"><circle class="h can" cx="181.3" cy="866.6" r="5.7"/><text x="191.7" y="876.7">Hap_122</text></g>
<g id="Hap_126"><circle class="h can" cx="126.3" cy="894.9" r="5.7"/><text x="81.8" y="885.1">Hap_126</text></g>
<g id="Hap_127"><circle class="h can" cx="171.8" cy="889.6" r="5.7"/><text x="179.4" y="899.4">Hap_127</text></g>
<g id="Hap_128"><circle class="h can" cx="139.9" cy="914.6" r="5.7"/><text x="122.2" y="928.4">Hap_128</text></g>
<g id="Hap_119"><circle class="h can" cx="274" cy="947.2" r="5.7"/><text x="242" y="935.7">Hap_119</text></g>
<g id="Hap_124"><circle class="h can" cx="249.5" cy="976.6" r="5.7"/><text x="203" y="966.1">Hap_124</text></g>
<g id="Hap_120"><circle class="h can" cx="559.3" cy="1268.5" r="5.7"/><text x="548.4" y="1257.1">Hap_120</text></g>
<g id="Hap_129"><circle class="h can" cx="520.5" cy="1349.2" r="5.7"/><text x="474.2" y="1339.3">Hap_129</text></g>
<g id="Hap_130"><circle class="h can" cx="510.2" cy="1358.7" r="5.7"/><text x="476.1" y="1375.3">Hap_130</text></g>
<g id="Hap_118"><circle class="h can" cx="805.4" cy="1182.1" r="5.7"/><text x="783.9" y="1172.1">Hap_118</text></g>
<g id="Hap_110"><circle class="h can" cx="923" cy="1160.6" r="5.7"/><text x="893.2" y="1146.7">Hap_110</text></g>
<g id="Hap_101"><circle class="h can" cx="944.8" cy="1153.8" r="5.7"/><text x="954.6" y="1146.2">Hap_101</text></g>
<g id="Hap_102"><circle class="h can" cx="954.6" cy="1186.7" r="5.7"/><text x="953.7" y="1180.6">Hap_102</text></g>
<g id="Hap_107"><circle class="h can" cx="964.1" cy="1240.8" r="5.7"/><text x="929.9" y="1256.3">Hap_107</text></g>
<g id="Hap_105"><circle class="h can" cx="1019.2" cy="1249.3" r="5.7"/><text x="997.8" y="1262.3">Hap_105</text></g>
<g id="Hap_108"><circle class="h can" cx="1067.8" cy="1205.2" r="5.7"/><text x="1022.2" y="1199.7">Hap_108</text></g>
<g id="Hap_109"><circle class="h can" cx="1086.3" cy="1189.3" r="5.7"/><text x="1077.3" y="1178.9">Hap_109</text></g>
<g id="Hap_99"><circle class="h can" cx="1137.5" cy="1182.5" r="5.7"/><text x="1141.4" y="1175.3">Hap_99</text></g>
<g id="Hap_98"><circle class="h can" cx="1150.9" cy="1200.9" r="5.7"/><text x="1156.9" y="1216">Hap_98</text></g>
<g id="Hap_100"><circle class="h can" cx="1087.2" cy="1218.5" r="5.7"/><text x="1094.6" y="1227.3">Hap_100</text></g>
<g id="Hap_103"><circle class="h can" cx="1070.8" cy="1255.6" r="5.7"/><text x="1083.3" y="1254.8">Hap_103</text></g>
<g id="Hap_104"><circle class="h can" cx="1139.3" cy="1293.8" r="5.7"/><text x="1145.8" y="1287.7">Hap_104</text></g>
<g id="Hap_106"><circle class="h can" cx="1127.1" cy="1317.6" r="5.7"/><text x="1138.4" y="1322.3">Hap_106</text></g>
<g id="Hap_133"><circle class="h ser" cx="491.7" cy="647.9" r="5.7"/><text x="468.5" y="639.1">Hap_133</text></g>
<g id="Hap_132"><circle class="h ser" cx="502.6" cy="699.6" r="5.7"/><text x="490.9" y="719.1">Hap_132</text></g>
<g id="Hap_136"><circle class="h ser" cx="632.7" cy="921.6" r="5.7"/><text x="619.3" y="910.7">Hap_136</text></g>
<g id="Hap_134"><circle class="h ser" cx="652.6" cy="963.2" r="5.7"/><text x="643" y="954.1">Hap_134</text></g>
<g id="Hap_137"><circle class="h ser" cx="652.8" cy="1185.1" r="5.7"/><text x="640" y="1176.7">Hap_137</text></g>
<g id="Hap_135"><circle class="h ser" cx="736.5" cy="1222.2" r="5.7"/><text x="734.6" y="1240">Hap_135</text></g>
<g id="Hap_139"><circle class="h ser" cx="722.3" cy="1298.8" r="5.7"/><text x="671.9" y="1290">Hap_139</text></g>
<g id="Hap_138"><circle class="h ser" cx="766.8" cy="1337.8" r="5.7"/><text x="747.4" y="1354.5">Hap_138</text></g>
<g id="Hap_131"><circle class="h ser" cx="807.1" cy="1328.8" r="5.7"/><text x="800.3" y="1318.5">Hap_131</text></g>
<g id="Hap_84"><circle class="h col" cx="519.5" cy="785.6" r="5.7"/><text x="517.6" y="804.4">Hap_84</text></g>
<g id="Hap_83"><circle class="h col" cx="506.7" cy="830.6" r="5.7"/><text x="460.3" y="826.7">Hap_83</text></g>
<g id="Hap_85"><circle class="h col" cx="541.3" cy="839.6" r="5.7"/><text x="529.3" y="830.1">Hap_85</text></g>
<g id="Hap_114"><circle class="h col" cx="546.8" cy="965.6" r="5.7"/><text x="501.8" y="955.7">Hap_114</text></g>
<g id="Hap_115"><circle class="h col" cx="610.3" cy="1009.5" r="5.7"/><text x="610.3" y="1003.4">Hap_115</text></g>
<g id="Hap_116"><circle class="h col" cx="586" cy="1021.4" r="5.7"/><text x="568.3" y="1037.2">Hap_116</text></g>
<g id="Hap_142"><circle class="h iran" cx="546.5" cy="1101.7" r="5.7"/><text x="545.6" y="1092.2">Hap_142</text></g>
<g id="Hap_140"><circle class="h iran" cx="536.4" cy="1150.2" r="5.7"/><text x="537.4" y="1144.1">Hap_140</text></g>
<g id="Hap_144"><circle class="h iran" cx="481" cy="1223" r="5.7"/><text x="466" y="1240">Hap_144</text></g>
<g id="Hap_145"><circle class="h iran" cx="451" cy="1285.9" r="5.7"/><text x="452.4" y="1278.7">Hap_145</text></g>
<g id="Hap_143"><circle class="h iran" cx="393.7" cy="1293.1" r="5.7"/><text x="345" y="1280.6">Hap_143</text></g>
<g id="Hap_141"><circle class="h iran" cx="415.6" cy="1318.9" r="5.7"/><text x="354.5" y="1324.1">Hap_141</text></g>
<g id="Hap_9"><circle class="h uk" cx="267.2" cy="1033.9" r="5.7"/><text x="243.5" y="1025.9">Hap_9</text></g>
<g id="Hap_8"><circle class="h uk" cx="229.6" cy="1058.1" r="5.7"/><text x="192.3" y="1047.9">Hap_8</text></g>
<g id="Hap_7"><circle class="h uk" cx="232.3" cy="1087.7" r="5.7"/><text x="203.2" y="1103.5">Hap_7</text></g>
<g id="Hap_69"><circle class="h nor" cx="378.5" cy="1061.2" r="5.7"/><text x="363.2" y="1050.5">Hap_69</text></g>
<g id="Hap_71"><circle class="h nor" cx="399.5" cy="1140" r="5.7"/><text x="379.9" y="1154.7">Hap_71</text></g>
<g id="Hap_70"><circle class="h nor" cx="366.8" cy="1168.4" r="5.7"/><text x="354.5" y="1183.9">Hap_70</text></g>
<g id="Hap_73"><circle class="h nor" cx="302.7" cy="1144.6" r="5.7"/><text x="274" y="1132.8">Hap_73</text></g>
<g id="Hap_72"><circle class="h nor" cx="325" cy="1183.6" r="5.7"/><text x="314.4" y="1203.2">Hap_72</text></g>
<g id="Hap_74"><circle class="h nor" cx="283.1" cy="1230.6" r="5.7"/><text x="261.8" y="1243.8">Hap_74</text></g>
<g id="Hap_81"><circle class="h nor" cx="537.7" cy="1406" r="5.7"/><text x="501.4" y="1421.2">Hap_81</text></g>
<g id="Hap_82"><circle class="h nor" cx="587.9" cy="1440.2" r="8.5"/><text x="584.6" y="1432.5">Hap_82</text></g>
<g id="Hap_80"><circle class="h nor" cx="557.9" cy="1456.1" r="8.5"/><text x="517" y="1475">Hap_80</text></g>
<g id="Hap_76"><circle class="h nor" cx="610.5" cy="1470.5" r="8.5"/><text x="613.8" y="1462.5">Hap_76</text></g>
<g id="Hap_75"><circle class="h nor" cx="571.8" cy="1503.5" r="5.7"/><text x="519.2" y="1511">Hap_75</text></g>
<g id="Hap_79"><circle class="h nor" cx="607.3" cy="1520.5" r="5.7"/><text x="615.2" y="1514.8">Hap_79</text></g>
<g id="Hap_78"><circle class="h nor" cx="582.4" cy="1533.8" r="5.7"/><text x="527.4" y="1545.9">Hap_78</text></g>
<g id="Hap_77"><circle class="h nor" cx="602.9" cy="1540.2" r="5.7"/><text x="610.5" y="1554.5">Hap_77</text></g>
<g id="Hap_10"><circle class="h cro" cx="856.3" cy="1176.7" r="5.7"/><text x="847.4" y="1168.3">Hap_10</text></g>
</g>
<g id="legend">
<line x1="848.6" y1="381" x2="848.6" y2="990" stroke="#555" stroke-width="1.2"/>
<line x1="1231.6" y1="381" x2="1231.6" y2="990" stroke="#bbb" stroke-width="1.2"/>
<line x1="848" y1="990" x2="1232" y2="990" stroke="#555" stroke-width="1.2"/>
<circle cx="1040" cy="408.3" r="22.5" fill="none" stroke="#333" stroke-width="0.8" stroke-dasharray="2.5 1.5"/>
<circle cx="1040" cy="424" r="7" fill="none" stroke="#333" stroke-width="0.8" stroke-dasharray="2.5 1.5"/>
<text class="ls" x="1037" y="414.5" text-anchor="middle">10 samples</text>
<text class="ls" x="1038" y="449" text-anchor="middle">1 sample</text>
<g id="legend-USA"><circle class="h usa" cx="859.6" cy="463.2" r="7.3"/><text class="lg" x="875.5" y="471">USA</text></g>
<g id="legend-Germany"><circle class="h ger" cx="859.6" cy="496.7" r="7.3"/><text class="lg" x="875.5" y="504.5">Germany</text></g>
<g id="legend-Italy"><circle class="h ita" cx="859.6" cy="530.2" r="7.3"/><text class="lg" x="875.5" y="538">Italy</text></g>
<g id="legend-UK"><circle class="h uk" cx="859.6" cy="562.9" r="7.3"/><text class="lg" x="875.5" y="570.7">UK</text></g>
<g id="legend-Croatia"><circle class="h cro" cx="859.6" cy="596.4" r="7.3"/><text class="lg" x="875.5" y="604.2">Croatia</text></g>
<g id="legend-China"><circle class="h cn" cx="859.6" cy="629.5" r="7.3"/><text class="lg" x="875.5" y="637.3">China</text></g>
<g id="legend-Argentina"><circle class="h arg" cx="859.6" cy="663" r="7.3"/><text class="lg" x="875.5" y="670.8">Argentina</text></g>
<g id="legend-Brazil"><circle class="h bra" cx="859.6" cy="696" r="7.3"/><text class="lg" x="875.5" y="703.8">Brazil</text></g>
<g id="legend-Norway"><circle class="h nor" cx="859.6" cy="729.1" r="7.3"/><text class="lg" x="875.5" y="736.9">Norway</text></g>
<g id="legend-Colombia"><circle class="h col" cx="859.6" cy="762.6" r="7.3"/><text class="lg" x="875.5" y="770.4">Colombia</text></g>
<g id="legend-Vietnam"><circle class="h vie" cx="859.6" cy="795.3" r="7.3"/><text class="lg" x="875.5" y="803.1">Vietnam</text></g>
<g id="legend-Thailand"><circle class="h tha" cx="859.6" cy="828.4" r="7.3"/><text class="lg" x="875.5" y="836.2">Thailand</text></g>
<g id="legend-Canada"><circle class="h can" cx="859.6" cy="861.9" r="7.3"/><text class="lg" x="875.5" y="869.7">Canada</text></g>
<g id="legend-Namibia"><circle class="h nam" cx="859.6" cy="894.6" r="7.3"/><text class="lg" x="875.5" y="902.4">Namibia</text></g>
<g id="legend-Serbia"><circle class="h ser" cx="859.6" cy="928.1" r="7.3"/><text class="lg" x="875.5" y="935.9">Serbia</text></g>
<g id="legend-Iran"><circle class="h iran" cx="859.6" cy="961.6" r="7.3"/><text class="lg" x="875.5" y="969.4">Iran</text></g>
</g>
</g>
</svg>
